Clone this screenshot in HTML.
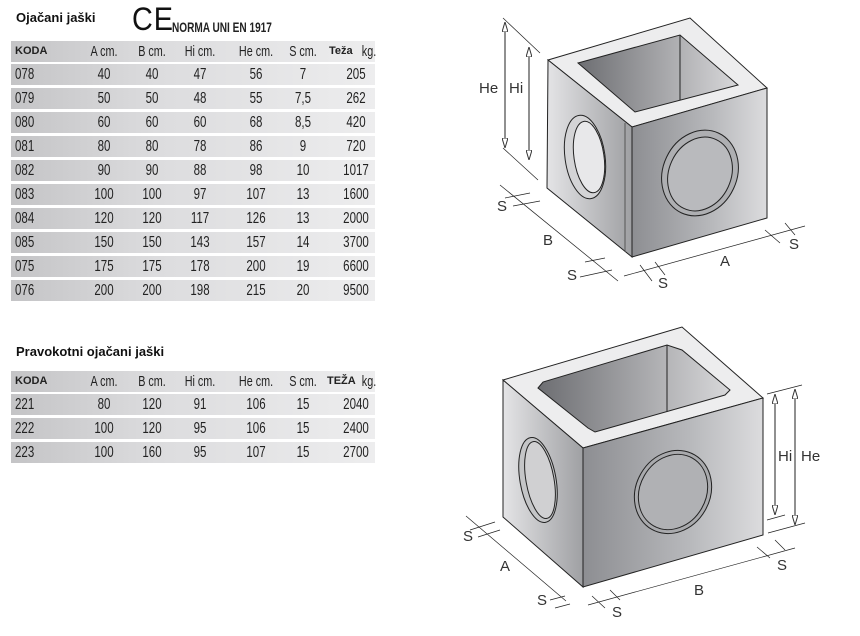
<!DOCTYPE html>
<html><head><meta charset="utf-8"><style>
body{margin:0;width:860px;height:636px;background:#fff;position:relative;overflow:hidden;font-family:"Liberation Sans",sans-serif;color:#222}
.t{position:absolute;font-family:"Liberation Sans",sans-serif;font-weight:bold;font-size:13px;color:#111}
.row{position:absolute;left:11px;width:364px;height:21px;background:linear-gradient(90deg,#c4c4c6,#dcdcde 40%,#ededee);font-size:16px;line-height:21px}
.row span{position:absolute;top:0;transform:translateX(-50%) scaleX(.72);white-space:nowrap}
.row span.k{transform:scaleX(.72);transform-origin:left;left:4px}
.hd span{font-size:15px}
.hd b{position:absolute;font-family:"Liberation Sans",sans-serif;font-size:11px;top:0}
</style></head><body>
<div class="t" style="left:16px;top:10px">Ojačani jaški</div>
<div style="position:absolute;left:132px;top:2px;font-family:'Liberation Sans',sans-serif;font-size:32px;letter-spacing:1px;color:#111;line-height:34px;transform:scaleX(.9);transform-origin:left">CE</div>
<div style="position:absolute;left:172px;top:19px;font-family:'Liberation Sans',sans-serif;font-weight:bold;font-size:14px;color:#222;transform:scaleX(.72);transform-origin:left;white-space:nowrap">NORMA UNI EN 1917</div>

<div id="t1"></div>
<div class="t" style="left:16px;top:344px">Pravokotni ojačani jaški</div>
<div id="t2"></div>

<svg width="860" height="636" style="position:absolute;left:0;top:0" xmlns="http://www.w3.org/2000/svg">
<defs>
<linearGradient id="gl" x1="0" x2="1"><stop offset="0" stop-color="#e4e4e6"/><stop offset="1" stop-color="#9fa0a3"/></linearGradient>
<linearGradient id="gr" x1="0" x2="1"><stop offset="0" stop-color="#8d8e92"/><stop offset=".6" stop-color="#b8b9bc"/><stop offset="1" stop-color="#dcdcde"/></linearGradient>
<linearGradient id="gi" x1="0" x2="1"><stop offset="0" stop-color="#6d6e72"/><stop offset="1" stop-color="#d8d8da"/></linearGradient>
<marker id="ar" viewBox="0 0 10 6" refX="10" refY="3" markerWidth="10" markerHeight="6" orient="auto-start-reverse" markerUnits="userSpaceOnUse"><path d="M0,0 L10,3 L0,6 Z" fill="#fff" stroke="#333" stroke-width="1"/></marker>
</defs>
<g stroke="#222" stroke-width="1">
<polygon points="548,60 690,18 767,88 632,127" fill="#ededee"/>
<polygon points="578,63 680,35 738,85 635,112" fill="url(#gi)"/>
<line x1="680" y1="35" x2="680" y2="100"/>
<polygon points="548,60 632,127 632,257 547,188" fill="url(#gl)"/>
<polygon points="632,127 767,88 767,218 632,257" fill="url(#gr)"/>
<line x1="625" y1="123" x2="625" y2="252" stroke="#555"/>
<ellipse cx="585" cy="157" rx="20" ry="42" fill="#d4d4d6" transform="rotate(-8 585 157)"/>
<ellipse cx="589" cy="157" rx="15" ry="36" fill="#e8e8ea" transform="rotate(-8 589 157)"/>
<ellipse cx="700" cy="173" rx="37" ry="44" fill="#aeafb2" transform="rotate(25 700 173)"/>
<ellipse cx="700" cy="174" rx="31" ry="38" fill="#b9babd" transform="rotate(25 700 174)"/>
<line x1="505" y1="22" x2="505" y2="148" marker-start="url(#ar)" marker-end="url(#ar)"/><line x1="529" y1="47" x2="529" y2="160" marker-start="url(#ar)" marker-end="url(#ar)"/>
<line x1="503" y1="18" x2="540" y2="53" stroke-width=".7"/><line x1="503" y1="148" x2="538" y2="180" stroke-width=".7"/>
<line x1="500" y1="185" x2="618" y2="281" stroke-width=".7"/>
<line x1="505" y1="198" x2="530" y2="193" stroke-width=".7"/><line x1="513" y1="206" x2="540" y2="201" stroke-width=".7"/>
<line x1="585" y1="262" x2="605" y2="258" stroke-width=".7"/><line x1="580" y1="277" x2="612" y2="270" stroke-width=".7"/>
<line x1="624" y1="276" x2="805" y2="226" stroke-width=".7"/>
<line x1="640" y1="265" x2="652" y2="281" stroke-width=".7"/><line x1="655" y1="262" x2="665" y2="275" stroke-width=".7"/>
<line x1="765" y1="230" x2="780" y2="243" stroke-width=".7"/><line x1="785" y1="223" x2="795" y2="235" stroke-width=".7"/>
<polygon points="503,380 682,327 763,398 583,448" fill="#ededee"/>
<polygon points="538,388 543,382 667,345 682,350 730,390 725,395 595,432 588,428" fill="url(#gi)"/>
<line x1="667" y1="345" x2="667" y2="412"/>
<polygon points="503,380 583,448 583,587 503,517" fill="url(#gl)"/>
<polygon points="583,448 763,398 763,535 583,587" fill="url(#gr)"/>
<ellipse cx="538" cy="480" rx="18" ry="43" fill="#c4c5c7" transform="rotate(-10 538 480)"/>
<ellipse cx="540" cy="480" rx="14" ry="39" fill="#d0d0d2" transform="rotate(-10 540 480)"/>
<ellipse cx="673" cy="492" rx="37" ry="43" fill="#a9aaad" transform="rotate(30 673 492)"/>
<ellipse cx="673" cy="492" rx="33" ry="39" fill="#b0b1b4" transform="rotate(30 673 492)"/>
<line x1="775" y1="394" x2="775" y2="515" marker-start="url(#ar)" marker-end="url(#ar)"/><line x1="795" y1="389" x2="795" y2="525" marker-start="url(#ar)" marker-end="url(#ar)"/>
<line x1="767" y1="394" x2="802" y2="385" stroke-width=".7"/><line x1="767" y1="520" x2="785" y2="515" stroke-width=".7"/>
<line x1="768" y1="533" x2="805" y2="523" stroke-width=".7"/>
<line x1="466" y1="516" x2="566" y2="601" stroke-width=".7"/>
<line x1="470" y1="530" x2="495" y2="522" stroke-width=".7"/><line x1="478" y1="537" x2="500" y2="530" stroke-width=".7"/>
<line x1="550" y1="600" x2="565" y2="596" stroke-width=".7"/><line x1="555" y1="608" x2="570" y2="604" stroke-width=".7"/>
<line x1="588" y1="605" x2="795" y2="548" stroke-width=".7"/>
<line x1="592" y1="596" x2="605" y2="608" stroke-width=".7"/><line x1="610" y1="590" x2="620" y2="600" stroke-width=".7"/>
<line x1="757" y1="547" x2="770" y2="558" stroke-width=".7"/><line x1="775" y1="540" x2="785" y2="550" stroke-width=".7"/>
</g>
<g font-family="Liberation Sans, sans-serif" font-size="15" fill="#333">
<text x="479" y="93">He</text><text x="509" y="93">Hi</text>
<text x="497" y="211">S</text><text x="543" y="245">B</text><text x="567" y="280">S</text>
<text x="658" y="288">S</text><text x="720" y="266">A</text><text x="789" y="249">S</text>
<text x="778" y="461">Hi</text><text x="801" y="461">He</text>
<text x="463" y="541">S</text><text x="500" y="571">A</text><text x="537" y="605">S</text>
<text x="612" y="617">S</text><text x="694" y="595">B</text><text x="777" y="570">S</text>
</g>
</svg>
<script>
function tbl(id,y0,rows,teza){
 var h='';var xs=[93,141,189,245,292,345];
 h+='<div class="row hd" style="top:'+y0+'px"><b style="left:4px">KODA</b>';
 ['A cm.','B cm.','Hi cm.','He cm.','S cm.'].forEach(function(s,i){h+='<span style="left:'+xs[i]+'px">'+s+'</span>';});
 h+='<b style="left:'+(teza=='Teža'?318:316)+'px">'+teza+'</b><span style="left:358px">kg.</span></div>';
 rows.forEach(function(r,j){
  h+='<div class="row" style="top:'+(y0+23+j*24)+'px"><span class="k">'+r[0]+'</span>';
  for(var i=1;i<7;i++)h+='<span style="left:'+xs[i-1]+'px">'+r[i]+'</span>';
  h+='</div>';});
 document.getElementById(id).innerHTML=h;
}
tbl('t1',41,[["078",40,40,47,56,7,205],["079",50,50,48,55,"7,5",262],["080",60,60,60,68,"8,5",420],["081",80,80,78,86,9,720],["082",90,90,88,98,10,1017],["083",100,100,97,107,13,1600],["084",120,120,117,126,13,2000],["085",150,150,143,157,14,3700],["075",175,175,178,200,19,6600],["076",200,200,198,215,20,9500]],'Teža');
tbl('t2',371,[["221",80,120,91,106,15,2040],["222",100,120,95,106,15,2400],["223",100,160,95,107,15,2700]],'TEŽA');
</script>
</body></html>
